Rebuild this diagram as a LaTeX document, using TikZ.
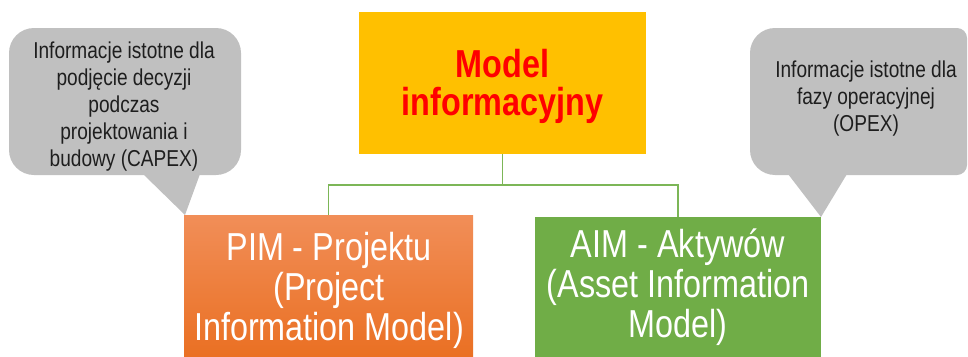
\documentclass[tikz,border=0pt]{standalone}
\usepackage{fontspec}
\usetikzlibrary{calc}
\newfontfamily\narrowsans{Liberation Sans}[FakeStretch=0.83]
\definecolor{modelgold}{HTML}{FFC000}
\definecolor{modelred}{HTML}{FF0000}
\definecolor{pimtop}{HTML}{F18E58}
\definecolor{pimbottom}{HTML}{E96C1C}
\definecolor{aimgreen}{HTML}{70AD47}
\definecolor{linkgreen}{HTML}{7CB657}
\definecolor{calloutgray}{HTML}{C0C0C0}
\definecolor{callouttext}{HTML}{1E1E1E}
\tikzset{
  boxshape/.style={rectangle, inner sep=0pt, outer sep=0pt},
  titletext/.style={align=center, text=modelred, font=\narrowsans\bfseries\fontsize{39}{38}\selectfont},
  boxtext/.style={align=center, text=white, font=\narrowsans\fontsize{39}{40}\selectfont},
  calltext/.style={align=center, text=callouttext, font=\narrowsans\fontsize{23}{27}\selectfont},
  callout/.style={fill=calloutgray},
  link/.style={draw=linkgreen, line width=1.5pt}
}
\begin{document}
\begin{tikzpicture}[x=1pt,y=-1pt]
\useasboundingbox (0,0) rectangle (968,356);

% speech bubbles: rounded body plus a pointed tail
\fill[callout, rounded corners=25pt] (9,28) rectangle (241,175);
\fill[callout] (143,174) -- (185,215) -- (200,174) -- cycle;
\fill[callout] (750,100) [rounded corners=25pt] -- (750,28) [rounded corners=10pt] -- (967,28) -- (967,175) [rounded corners=25pt] -- (750,175) -- cycle;
\fill[callout] (788,174) -- (821,217) -- (847,174) -- cycle;
\node[calltext] (capex) at (124,106.5) {Informacje istotne dla\\podjęcie decyzji\\podczas\\projektowania i\\budowy (CAPEX)};
\node[calltext] (opex) at (866,99) {Informacje istotne dla\\fazy operacyjnej\\(OPEX)};

% main boxes
\node[boxshape, fill=modelgold, minimum width=287pt, minimum height=142pt] (model) at (502.5,83) {};
\node[titletext] (modeltext) at (502.5,86) {Model\\informacyjny};

\node[boxshape, top color=pimtop, bottom color=pimbottom, minimum width=289pt, minimum height=160pt] (pim) at (328.5,295) {};
\node[boxtext] (pimtext) at (329,290) {PIM - Projektu\\(Project\\Information Model)};

\node[boxshape, fill=aimgreen, minimum width=286pt, minimum height=160pt] (aim) at (678,297) {};
\node[boxtext] (aimtext) at (678,287) {AIM - Aktywów\\(Asset Information\\Model)};

% tree connectors
\coordinate (bus) at ($(model.south)+(0,31)$);
\draw[link] (model.south) -- (bus) -| (pim.north);
\draw[link] (bus) -| (aim.north);
\end{tikzpicture}
\end{document}
